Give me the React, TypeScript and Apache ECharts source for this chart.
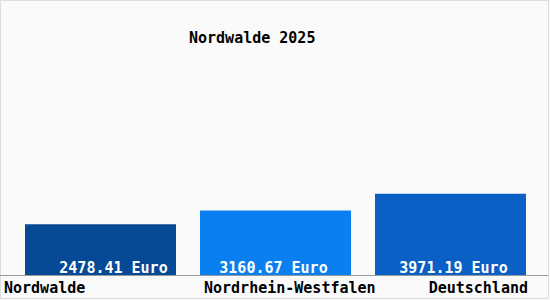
import React, { useEffect, useRef } from "react";
import * as echarts from "echarts";

const categories = ["Nordwalde", "Nordrhein-Westfalen", "Deutschland"];
const values = [2478.41, 3160.67, 3971.19];
const barColors = ["#064a96", "#0a80f0", "#0a60c4"];
const title = "Nordwalde 2025";
const unit = "Euro";

const FONT = "'DejaVu Sans Mono', monospace";

export default function App() {
  const ref = useRef<HTMLDivElement>(null);
  useEffect(() => {
    if (!ref.current) return;
    const chart = echarts.init(ref.current, null, { renderer: "svg" });
    const labelOffsets = [[13, 0], [-2, 0], [3, 0]];
    const catPos = [
      { x: 4, align: "left" },
      { x: 204, align: "left" },
      { x: 528, align: "right" },
    ];
    chart.setOption({
      animation: false,
      backgroundColor: "#fafafa",
      title: {
        text: title,
        left: 184,
        top: 25,
        textStyle: { fontFamily: FONT, fontSize: 15, fontWeight: "bold", color: "#000" },
      },
      grid: { left: 13, right: 12, top: 40, bottom: 25 },
      xAxis: {
        type: "category",
        data: categories,
        axisLine: { show: false },
        axisTick: { show: false },
        axisLabel: { show: false },
      },
      yAxis: {
        type: "value",
        min: 0,
        max: 11500,
        show: false,
        splitLine: { show: false },
      },
      series: [
        {
          type: "bar",
          barWidth: 151,
          data: values.map((v, i) => ({
            value: v,
            itemStyle: { color: barColors[i] },
            label: { offset: labelOffsets[i] },
          })),
          label: {
            show: true,
            position: "insideBottom",
            distance: 0,
            color: "#fff",
            fontFamily: FONT,
            fontSize: 15,
            fontWeight: "bold",
            formatter: (p: any) => `${p.value.toFixed(2)} ${unit}`,
          },
        },
      ],
      graphic: [
        {
          type: "rect",
          shape: { x: 0.5, y: 0.5, width: 548, height: 298 },
          style: { fill: "none", stroke: "#dddddd", lineWidth: 1 },
          silent: true,
        },
        {
          type: "line",
          shape: { x1: 0, y1: 275.5, x2: 548, y2: 275.5 },
          style: { stroke: "#999999", lineWidth: 1 },
          silent: true,
        },
        ...categories.map((c, i) => ({
          type: "text",
          x: catPos[i].x,
          y: 280,
          style: {
            text: c,
            fill: "#000",
            font: `bold 15px ${FONT}`,
            textAlign: catPos[i].align,
            textVerticalAlign: "top",
          },
          silent: true,
        })),
      ],
    });
    return () => chart.dispose();
  }, []);
  return (
    <div
      ref={ref}
      style={{ position: "fixed", left: 0, top: 0, width: 550, height: 300 }}
    />
  );
}
